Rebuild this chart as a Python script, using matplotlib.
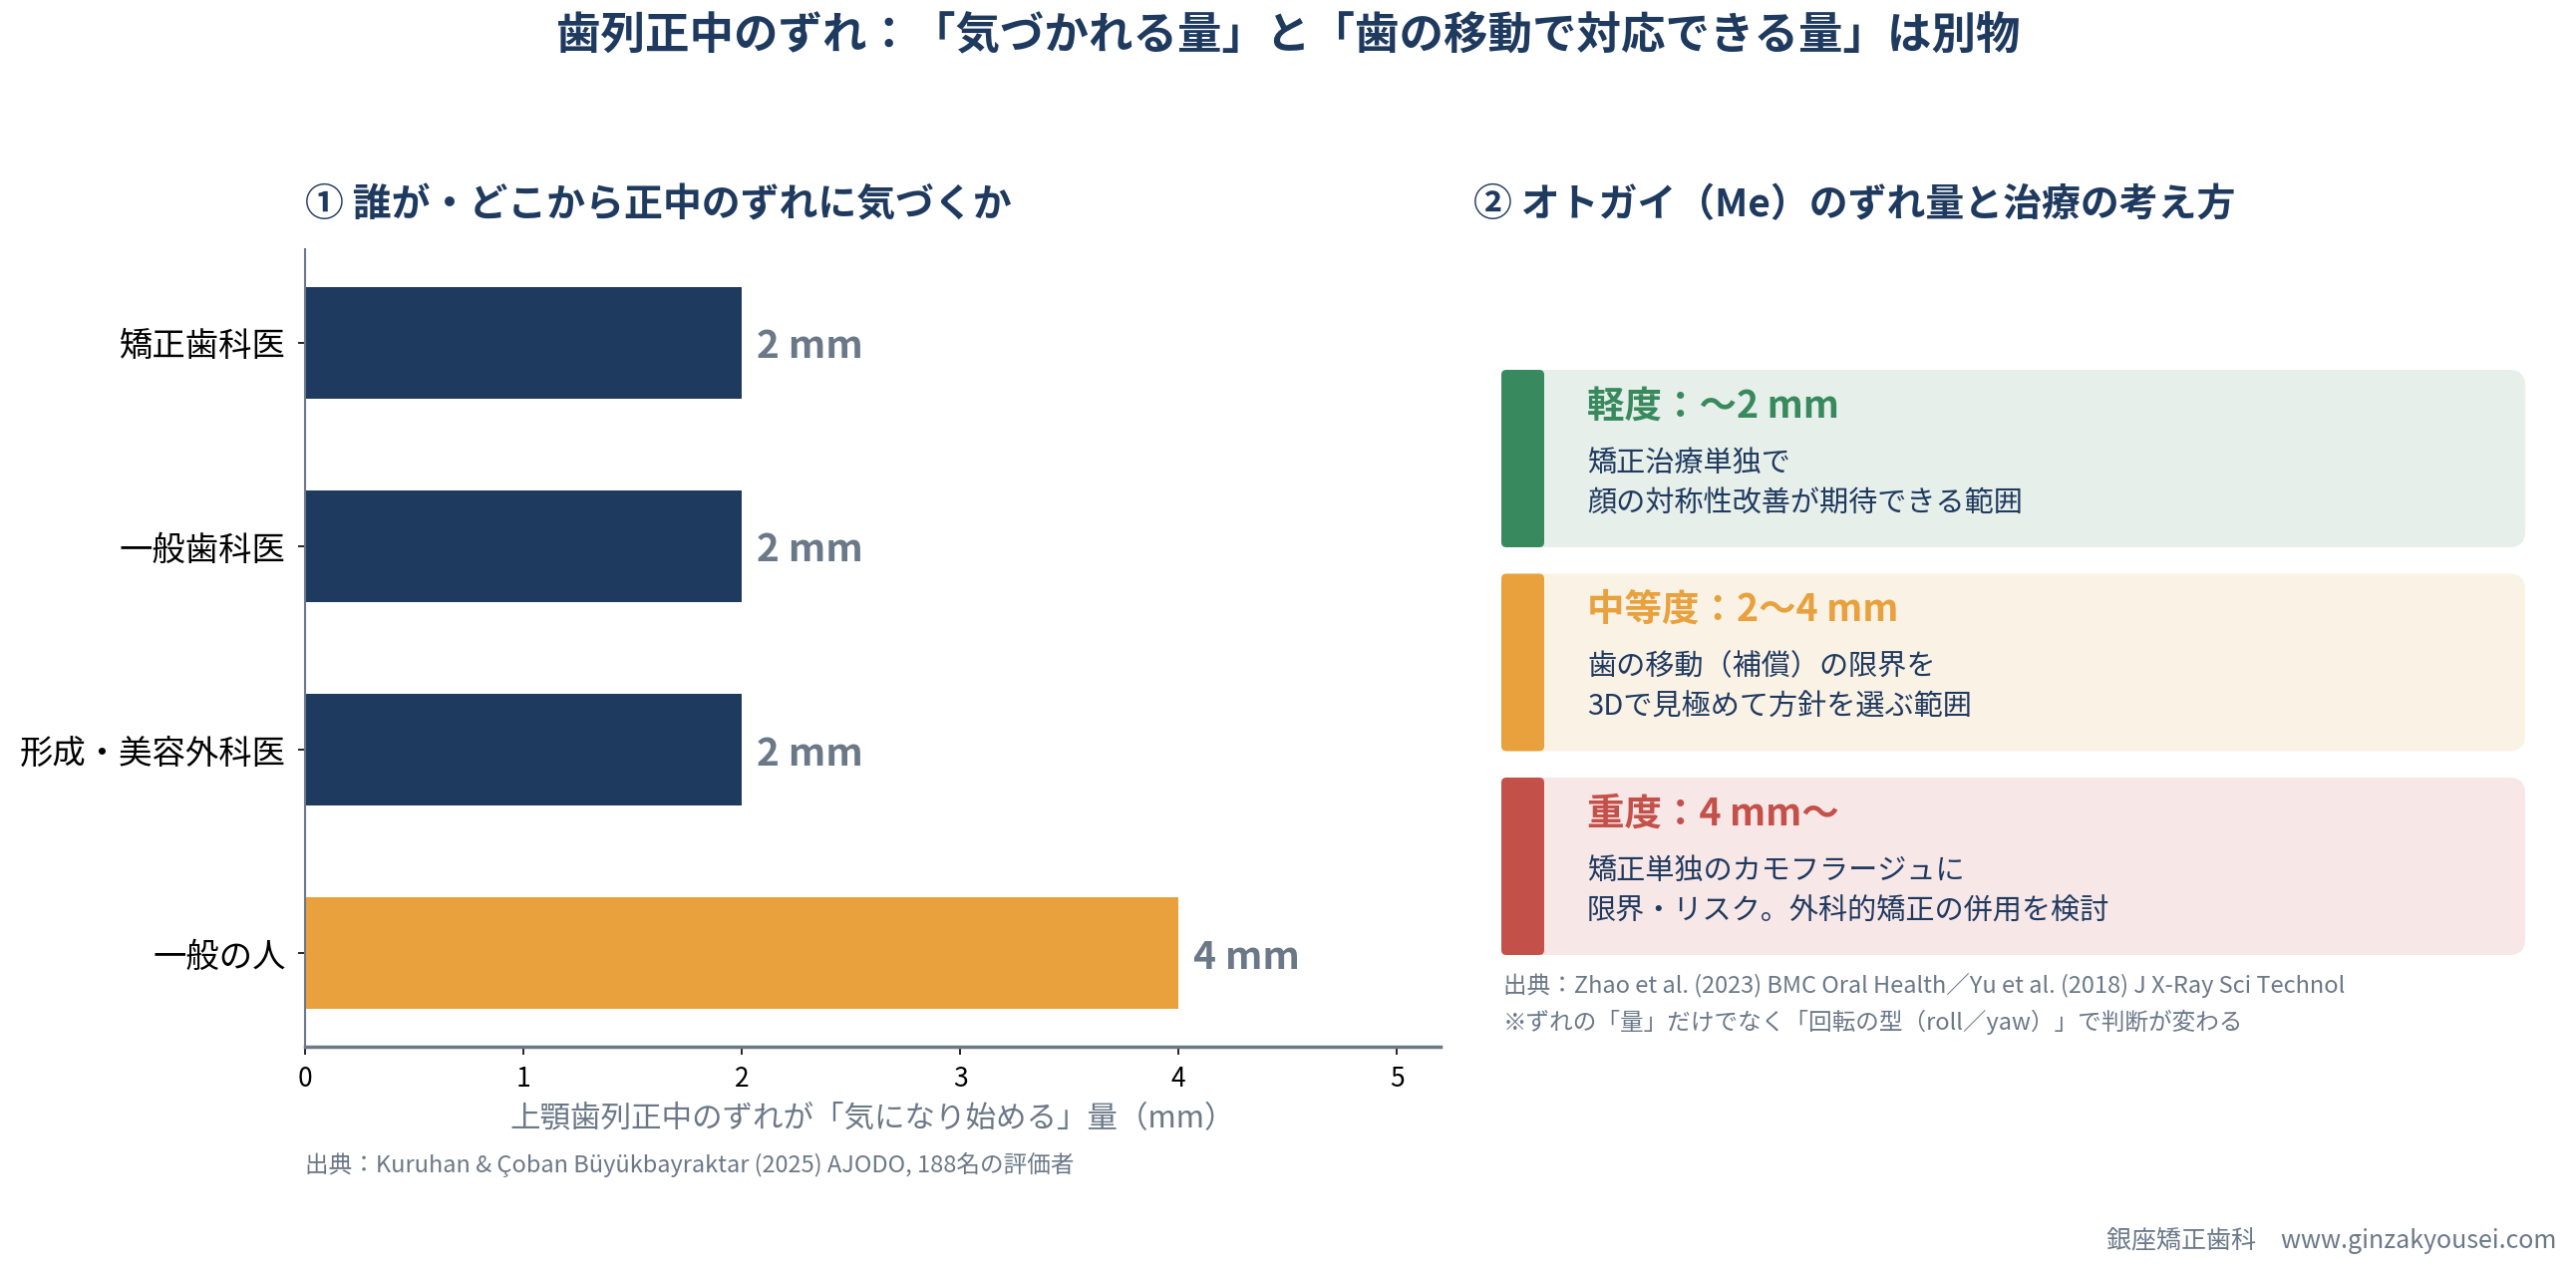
import matplotlib
matplotlib.use("Agg")
import matplotlib.pyplot as plt
from matplotlib.patches import FancyBboxPatch

plt.rcParams['font.family'] = ['Noto Sans CJK JP', 'DejaVu Sans']

# ---- data ----
categories = ["矯正歯科医", "一般歯科医", "形成・美容外科医", "一般の人"]
values = [2, 2, 2, 4]
bar_colors = ["#1f3a5f", "#1f3a5f", "#1f3a5f", "#e8a13c"]
value_labels = ["2 mm", "2 mm", "2 mm", "4 mm"]
xticks = [0, 1, 2, 3, 4, 5]

box_headings = ["軽度：〜2 mm", "中等度：2〜4 mm", "重度：4 mm〜"]
box_bodies = [
    "矯正治療単独で\n顔の対称性改善が期待できる範囲",
    "歯の移動（補償）の限界を\n3Dで見極めて方針を選ぶ範囲",
    "矯正単独のカモフラージュに\n限界・リスク。外科的矯正の併用を検討",
]
box_accent = ["#388a5e", "#e8a13c", "#c4504a"]
box_bg = ["#e7efea", "#fbf2e6", "#f8e7e7"]

title = "歯列正中のずれ：「気づかれる量」と「歯の移動で対応できる量」は別物"
sub1 = "① 誰が・どこから正中のずれに気づくか"
sub2 = "② オトガイ（Me）のずれ量と治療の考え方"
xlabel = "上顎歯列正中のずれが「気になり始める」量（mm）"
src1 = "出典：Kuruhan & Çoban Büyükbayraktar (2025) AJODO, 188名の評価者"
src2 = ("出典：Zhao et al. (2023) BMC Oral Health／Yu et al. (2018) J X-Ray Sci Technol\n"
        "※ずれの「量」だけでなく「回転の型（roll／yaw）」で判断が変わる")
footer = "銀座矯正歯科　www.ginzakyousei.com"

NAVY = "#1f3a5f"
GREY = "#6b7888"

W, H = 2584, 1279
fig = plt.figure(figsize=(W / 100, H / 100), dpi=100)
fig.patch.set_facecolor("white")

def fx(px):
    return px / W

def fy(py):
    return 1 - py / H

# ---- left bar chart ----
ax = fig.add_axes([fx(306), fy(1050), fx(1445 - 306), (1050 - 250) / H])
ypos = list(range(len(categories)))
ax.barh(ypos, values, height=0.55, color=bar_colors, zorder=2)
for y, v, lab in zip(ypos, values, value_labels):
    ax.text(v + 0.07, y, lab, va="center_baseline", ha="left", fontsize=28,
            fontweight="bold", color=GREY)
ax.set_xlim(0, 5.2)
ax.set_ylim(3.46, -0.46)
ax.set_yticks(ypos)
ax.set_yticklabels(categories, fontsize=24, color="black")
ax.set_xticks(xticks)
ax.set_xticklabels([str(t) for t in xticks], fontsize=19, color="black")
ax.tick_params(axis="y", length=5, width=1.2, pad=9)
ax.tick_params(axis="x", length=6, width=1.2, pad=8)
for s in ["top", "right"]:
    ax.spines[s].set_visible(False)
ax.spines["left"].set_color(GREY)
ax.spines["left"].set_linewidth(1.5)
ax.spines["bottom"].set_color(GREY)
ax.spines["bottom"].set_linewidth(2.5)
ax.set_xlabel(xlabel, fontsize=22, color=GREY, labelpad=8)

# ---- texts ----
fig.text(0.5, fy(36), title, ha="center", va="center", fontsize=32,
         fontweight="bold", color=NAVY)
fig.text(fx(306), fy(206), sub1, ha="left", va="center", fontsize=28,
         fontweight="bold", color=NAVY)
fig.text(fx(1478), fy(206), sub2, ha="left", va="center", fontsize=28,
         fontweight="bold", color=NAVY)
fig.text(fx(306), fy(1168), src1, ha="left", va="center", fontsize=17, color=GREY)
fig.text(fx(1508), fy(1007), src2, ha="left", va="center", fontsize=17,
         color=GREY, linespacing=1.55)
fig.text(fx(2564), fy(1244), footer, ha="right", va="center", fontsize=18, color=GREY)

# ---- right panel boxes (pixel overlay axes) ----
ov = fig.add_axes([0, 0, 1, 1], zorder=-1)
ov.set_xlim(0, W)
ov.set_ylim(H, 0)
ov.axis("off")

box_left, box_right = 1506, 2533
box_top0, box_h, box_gap = 371, 178, 26.5
for i, (hd, body, ac, bg) in enumerate(zip(box_headings, box_bodies, box_accent, box_bg)):
    top = box_top0 + i * (box_h + box_gap)
    ov.add_patch(FancyBboxPatch((box_left, top), box_right - box_left, box_h,
                                boxstyle="round,pad=0,rounding_size=16",
                                facecolor=bg, edgecolor="none"))
    ov.add_patch(FancyBboxPatch((box_left, top), 43, box_h,
                                boxstyle="round,pad=0,rounding_size=5",
                                facecolor=ac, edgecolor="none"))
    ov.text(1592, top + 36, hd, ha="left", va="center", fontsize=27,
            fontweight="bold", color=ac)
    ov.text(1592, top + 114, body, ha="left", va="center", fontsize=21,
            color=NAVY, linespacing=1.45)

fig.savefig("out.png", dpi=100, facecolor="white")
